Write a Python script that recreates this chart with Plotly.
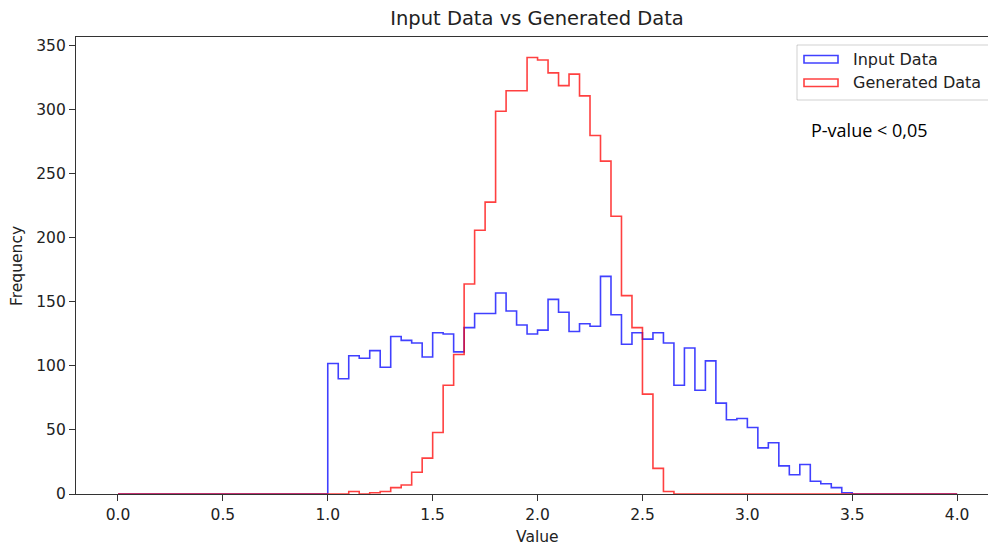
import numpy as np
import plotly.graph_objects as go

# Histogram bins: 80 bins of width 0.05 covering 0.0 .. 4.0
bin_width = 0.05
bin_count = 80

# Counts per bin, starting at the first non-empty bin
input_start = 1.00
input_counts = [102, 90, 108, 106, 112, 99, 123, 120, 118, 107,
                126, 125, 111, 130, 141, 141, 157, 143, 132, 125,
                128, 152, 142, 127, 133, 131, 170, 140, 117, 126,
                121, 126, 118, 85, 114, 81, 104, 71, 58, 59,
                52, 36, 40, 22, 15, 23, 10, 8, 5, 1]

generated_start = 1.10
generated_counts = [2, 0, 1, 2, 5, 7, 17, 28, 48, 85,
                    109, 164, 206, 228, 299, 315, 315, 341, 339, 329,
                    319, 328, 311, 280, 260, 217, 155, 130, 78, 20,
                    2]

x_ticks = [0.0, 0.5, 1.0, 1.5, 2.0, 2.5, 3.0, 3.5, 4.0]
y_ticks = [0, 50, 100, 150, 200, 250, 300, 350]

edges = np.round(np.arange(bin_count + 1) * bin_width, 4)


def full_counts(start, counts):
    offset = int(round(start / bin_width))
    return [0] * offset + list(counts) + [0] * (bin_count - offset - len(counts))


def step_outline(counts):
    """Outline of a step histogram: up from the baseline, across each bin, back down."""
    xs, ys = [edges[0]], [0]
    for i, c in enumerate(counts):
        xs += [edges[i], edges[i + 1]]
        ys += [c, c]
    xs.append(edges[-1])
    ys.append(0)
    return xs, ys


BLUE = "rgba(0,0,255,0.75)"
RED = "rgba(255,0,0,0.75)"
FONT = "DejaVu Sans"

fig = go.Figure()
for name, start, counts, color in [
    ("Input Data", input_start, input_counts, BLUE),
    ("Generated Data", generated_start, generated_counts, RED),
]:
    xs, ys = step_outline(full_counts(start, counts))
    fig.add_trace(go.Scatter(x=xs, y=ys, mode="lines", name=name,
                             line=dict(color=color, width=1.6),
                             showlegend=False, hoverinfo="skip"))

W, H = 988, 550
L, R, T, B = 76, 0, 37, 56
pw, ph = W - L - R, H - T - B


def px(x):  # pixel -> paper x
    return (x - L) / pw


def py(y):  # pixel -> paper y
    return (H - B - y) / ph


shapes = [
    # legend frame
    dict(type="rect", xref="paper", yref="paper",
         x0=px(797), x1=px(1000), y0=py(45), y1=py(100),
         line=dict(color="rgba(0,0,0,0.18)", width=1),
         fillcolor="rgba(255,255,255,0.8)", layer="above"),
    # legend handles
    dict(type="rect", xref="paper", yref="paper",
         x0=px(804), x1=px(838), y0=py(55.5), y1=py(63),
         line=dict(color=BLUE, width=1.6), fillcolor="rgba(0,0,0,0)", layer="above"),
    dict(type="rect", xref="paper", yref="paper",
         x0=px(804), x1=px(838), y0=py(79), y1=py(86.5),
         line=dict(color=RED, width=1.6), fillcolor="rgba(0,0,0,0)", layer="above"),
]

annotations = [
    dict(text="Input Data", xref="paper", yref="paper", x=px(851), y=py(59),
         xanchor="left", yanchor="middle", showarrow=False,
         font=dict(family=FONT, size=16, color="#222")),
    dict(text="Generated Data", xref="paper", yref="paper", x=px(851), y=py(82.5),
         xanchor="left", yanchor="middle", showarrow=False,
         font=dict(family=FONT, size=16, color="#222")),
    dict(text="P-value < 0,05", xref="paper", yref="paper", x=px(809), y=py(130),
         xanchor="left", yanchor="middle", showarrow=False,
         font=dict(family="Open Sans", size=18, color="#000", weight=500)),
    dict(text="Value", xref="paper", yref="paper", x=px(537), y=py(537),
         xanchor="center", yanchor="middle", showarrow=False,
         font=dict(family=FONT, size=15.5, color="#222")),
    dict(text="Frequency", xref="paper", yref="paper", x=px(17), y=py(266),
         xanchor="center", yanchor="middle", showarrow=False, textangle=-90,
         font=dict(family=FONT, size=15.5, color="#222")),
]

fig.update_layout(
    width=W, height=H,
    margin=dict(l=L, r=R, t=T, b=B, pad=0),
    paper_bgcolor="white", plot_bgcolor="white",
    title=dict(text="Input Data vs Generated Data", x=537 / W, xref="container",
               xanchor="center", y=1 - 18 / H, yref="container", yanchor="middle",
               font=dict(family=FONT, size=19.5, color="#222")),
    shapes=shapes, annotations=annotations,
    xaxis=dict(range=[-0.2, -0.2 + pw / 209.8], tickvals=x_ticks,
               ticktext=[f"{v:.1f}" for v in x_ticks],
               showgrid=False, zeroline=False, showline=True, mirror=True,
               linecolor="#333", linewidth=1.2, ticks="outside", ticklen=6,
               tickcolor="#333", tickwidth=1.2,
               tickfont=dict(family=FONT, size=15.5, color="#222")),
    yaxis=dict(range=[0, 357], tickvals=y_ticks,
               showgrid=False, zeroline=False, showline=True, mirror=False,
               linecolor="#333", linewidth=1.2, ticks="outside", ticklen=6,
               tickcolor="#333", tickwidth=1.2,
               tickfont=dict(family=FONT, size=15.5, color="#222")),
)

fig.write_html("out.html")
